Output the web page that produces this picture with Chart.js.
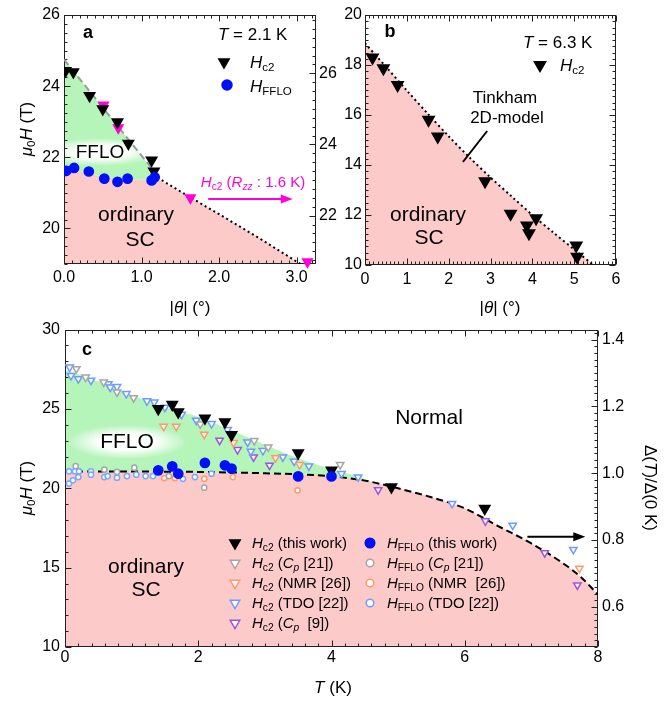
<!DOCTYPE html>
<html>
<head>
<meta charset="utf-8">
<script src="https://cdn.jsdelivr.net/npm/chart.js@4/dist/chart.umd.min.js"></script>
<style>
  body { margin: 0; background: #fff; width: 670px; height: 703px; position: relative; overflow: hidden; }
  canvas { position: absolute; }
</style>
</head>
<body>
<canvas id="chartA" width="345" height="320" style="left:0;top:0"></canvas>
<canvas id="chartB" width="335" height="320" style="left:335px;top:0"></canvas>
<canvas id="chartC" width="670" height="388" style="left:0;top:315px"></canvas>
<script>
// ---- panel a: T = 2.1 K, field vs angle ----
const aHc2Theta = [0.02, 0.12, 0.33, 0.50, 0.69, 0.83, 1.13, 1.16];
const aHc2 = [24.43, 24.40, 23.73, 23.36, 22.99, 22.39, 21.92, 21.61];
const aFfloTheta = [0.03, 0.13, 0.32, 0.52, 0.69, 0.82, 1.13, 1.17];
const aFflo = [21.62, 21.70, 21.60, 21.40, 21.31, 21.40, 21.35, 21.44];
const aRzzTheta = [0.51, 0.70, 1.63, 3.14];          // right axis
const aRzz = [25.11, 24.47, 22.50, 20.70];
const aDashTheta = [0, 1.22];
const aDash = [24.75, 21.45];
const aDotTheta = [1.15, 1.64, 2.0, 2.5, 3.05];
const aDot = [21.50, 20.86, 20.40, 19.75, 19.0];
const aScTheta = [0, 0.25, 0.5, 0.75, 1.0, 1.2, 1.64, 2.0, 2.5, 3.05];
const aSc = [21.65, 21.60, 21.45, 21.38, 21.37, 21.40, 20.86, 20.40, 19.75, 19.0];

// ---- panel b: T = 6.3 K ----
const bHc2Theta = [0.18, 0.44, 0.78, 1.52, 1.74, 2.87, 3.48, 3.87, 3.92, 4.09, 5.05, 5.07];
const bHc2 = [18.30, 17.87, 17.20, 15.81, 15.14, 13.35, 12.05, 11.58, 11.27, 11.87, 10.78, 10.33];
const bTinkTheta = [0, 0.5, 1, 1.5, 2, 2.5, 3, 3.5, 4, 4.5, 5, 5.46];
const bTink = [18.87, 17.93, 16.98, 16.05, 15.15, 14.30, 13.50, 12.75, 12.00, 11.30, 10.62, 10.0];

// ---- panel c: field vs temperature ----
const cHc2T = [1.40, 1.61, 1.70, 2.10, 2.40, 2.50, 3.50, 4.00, 4.90, 6.30];
const cHc2 = [25.01, 25.28, 24.80, 24.42, 24.17, 23.37, 22.22, 21.13, 20.08, 18.72];
const cFfloT = [1.40, 1.61, 1.70, 2.10, 2.40, 2.50, 3.50, 4.00];
const cFflo = [21.13, 21.38, 20.92, 21.60, 21.45, 21.24, 20.75, 20.75];
const cCp21T = [0.17, 0.31, 0.58, 0.78, 1.03, 2.03, 2.84, 3.05, 4.13];
const cCp21 = [27.53, 27.00, 26.69, 26.06, 25.70, 24.05, 23.00, 22.60, 21.49];
const cCp21FfloT = [0.16, 0.59, 0.78, 1.04, 1.56, 2.09];
const cCp21Fflo = [21.40, 21.18, 21.03, 21.30, 20.77, 20.04];
const cNmrT = [1.48, 1.67, 2.09, 2.53, 3.16, 3.52, 7.72];
const cNmr = [23.90, 23.90, 23.40, 22.87, 21.92, 21.49, 14.95];
const cNmrFfloT = [1.49, 1.65, 2.09, 2.52, 3.49];
const cNmrFflo = [20.65, 20.65, 20.60, 20.71, 19.87];
const cTdoT = [0.07, 0.09, 0.20, 0.39, 0.65, 0.68, 0.78, 0.92, 1.23, 1.34, 1.50, 1.75, 1.97,
               2.20, 2.44, 2.74, 2.79, 2.97, 3.27, 3.44, 3.66, 4.15, 4.40, 5.81, 6.72, 7.63];
const cTdo = [27.63, 27.10, 26.90, 26.80, 26.58, 26.37, 26.40, 25.96, 25.50, 25.43, 25.10, 24.65, 24.28,
              24.07, 23.69, 22.91, 22.33, 22.37, 21.97, 21.70, 21.40, 20.92, 20.71, 19.04, 17.67, 16.14];
const cTdoFfloT = [0.06, 0.06, 0.12, 0.20, 0.15, 0.21, 0.39, 0.39, 0.59, 0.64, 0.78, 0.93, 1.07,
                   1.21, 1.32, 1.77, 1.95, 2.20];
const cTdoFflo = [21.07, 20.30, 20.50, 20.71, 21.07, 21.07, 21.07, 20.86, 20.71, 20.77, 20.67, 20.77, 20.86,
                  20.77, 20.77, 20.60, 20.71, 20.92];
const cCp9T = [2.32, 2.59, 2.83, 3.07, 4.70, 6.31, 7.20, 7.69];
const cCp9 = [23.02, 22.43, 21.97, 21.45, 19.90, 17.94, 15.93, 13.90];
const cGapT = [0, 1, 2, 3, 3.5, 4, 4.5, 5, 5.5, 6, 6.5, 7, 7.5, 7.75, 8];   // right axis
const cGap = [1.005, 1.005, 1.004, 1.0, 0.997, 0.991, 0.978, 0.955, 0.928, 0.895, 0.842, 0.79, 0.727, 0.688, 0.637];
const cEdgeT = [0, 0.5, 1, 1.5, 2, 2.5, 3, 3.5, 4, 4.4, 4.75];
const cEdge = [27.45, 26.75, 25.90, 25.10, 24.50, 23.65, 22.75, 21.90, 21.20, 20.75, 20.20];

const FONT = '"Liberation Sans", Arial, Helvetica, sans-serif';
Chart.defaults.font.family = FONT;
Chart.defaults.font.size = 16;
Chart.defaults.color = '#000';

const PINK = '#fdcaca', GREEN = '#b5f5ba', MAG = '#ff00dc', BLUE = '#0010f5';
const GRAY = '#a6a6a6', ORANGE = '#ff9a66', LBLUE = '#6f9bff', PURPLE = '#9a55e0';

const pts = (xs, ys) => xs.map((x, i) => ({x, y: ys[i]}));
const line = (xs, ys, o) => Object.assign({data: pts(xs, ys), showLine: true, pointRadius: 0,
  borderWidth: 2, fill: false, order: 5}, o);
const marks = (xs, ys, o) => Object.assign({data: pts(xs, ys), showLine: false, order: 1}, o);
const down = (r, fill, stroke) => ({pointStyle: 'triangle', rotation: 180, pointRadius: r,
  backgroundColor: fill, borderColor: stroke, pointBorderWidth: 1.5});
const ring = (r, fill, stroke) => ({pointStyle: 'circle', pointRadius: r,
  backgroundColor: fill, borderColor: stroke, pointBorderWidth: 1.5});

// text with italic / subscript pieces
function txt(ctx, x, y, segs, size, o = {}) {
  const parts = segs.map(([t, f = '']) => {
    const sz = f.includes('s') ? size * 0.68 : size;
    const font = (f.includes('i') ? 'italic ' : '') + (o.bold ? 'bold ' : '') + sz + 'px ' + FONT;
    ctx.font = font;
    return {t, font, w: ctx.measureText(t).width, dy: f.includes('s') ? size * 0.3 : 0};
  });
  const total = parts.reduce((s, p) => s + p.w, 0);
  ctx.save();
  ctx.translate(x, y);
  if (o.rot) ctx.rotate(o.rot);
  let cx = o.align === 'left' ? 0 : -total / 2;
  ctx.fillStyle = o.color || '#000';
  ctx.textBaseline = 'middle';
  ctx.textAlign = 'left';
  for (const p of parts) { ctx.font = p.font; ctx.fillText(p.t, cx, p.dy); cx += p.w; }
  ctx.restore();
}

function marker(ctx, x, y, style, r, fill, stroke) {
  ctx.save();
  ctx.fillStyle = fill; ctx.strokeStyle = stroke; ctx.lineWidth = 1.5;
  Chart.helpers.drawPoint(ctx, {pointStyle: style, radius: r, rotation: style === 'triangle' ? 180 : 0, borderWidth: 1.5}, x, y);
  ctx.restore();
}

function arrow(ctx, x1, y, x2, color) {
  ctx.save();
  ctx.strokeStyle = color; ctx.fillStyle = color; ctx.lineWidth = 2;
  ctx.beginPath(); ctx.moveTo(x1, y); ctx.lineTo(x2 - 8, y); ctx.stroke();
  ctx.beginPath(); ctx.moveTo(x2, y); ctx.lineTo(x2 - 12, y - 4.5); ctx.lineTo(x2 - 12, y + 4.5); ctx.closePath(); ctx.fill();
  ctx.restore();
}

function glow(chart, cx, cy, rx, ry) {
  const {ctx, chartArea: a} = chart;
  ctx.save();
  ctx.beginPath(); ctx.rect(a.left, a.top, a.right - a.left, a.bottom - a.top); ctx.clip();
  ctx.translate(cx, cy); ctx.scale(rx / ry, 1);
  const g = ctx.createRadialGradient(0, 0, 0, 0, 0, ry);
  g.addColorStop(0, 'rgba(255,255,255,1)');
  g.addColorStop(0.5, 'rgba(255,255,255,0.95)');
  g.addColorStop(1, 'rgba(255,255,255,0)');
  ctx.fillStyle = g;
  ctx.beginPath(); ctx.arc(0, 0, ry, 0, Math.PI * 2); ctx.fill();
  ctx.restore();
}

// frame plus inward ticks
function frame(chart, specs) {
  const {ctx, chartArea: a} = chart;
  ctx.save();
  ctx.strokeStyle = '#222'; ctx.lineWidth = 1;
  const L = Math.round(a.left) + 0.5, R = Math.round(a.right) - 0.5;
  const T = Math.round(a.top) + 0.5, B = Math.round(a.bottom) - 0.5;
  ctx.strokeRect(L, T, R - L, B - T);
  for (const s of specs) {
    const sc = chart.scales[s.id];
    const majors = sc.ticks.map(t => t.value);
    const n0 = Math.ceil(sc.min / s.minor - 1e-6), n1 = Math.floor(sc.max / s.minor + 1e-6);
    ctx.beginPath();
    for (let n = n0; n <= n1; n++) {
      const v = n * s.minor;
      const len = majors.some(m => Math.abs(m - v) < s.minor / 10) ? 6 : 3;
      const p = Math.round(sc.getPixelForValue(v)) + 0.5;
      for (const e of s.edges) {
        if (e === 'bottom') { ctx.moveTo(p, B); ctx.lineTo(p, B - len); }
        if (e === 'top') { ctx.moveTo(p, T); ctx.lineTo(p, T + len); }
        if (e === 'left') { ctx.moveTo(L, p); ctx.lineTo(L + len, p); }
        if (e === 'right') { ctx.moveTo(R, p); ctx.lineTo(R - len, p); }
      }
    }
    ctx.stroke();
  }
  ctx.restore();
}

function axis(o) {
  return Object.assign({type: 'linear', grid: {display: false, drawTicks: false}, border: {display: false}},
    o, {ticks: Object.assign({includeBounds: false, autoSkip: false, maxRotation: 0, color: '#000', font: {size: 16}}, o.ticks)});
}

const base = {
  responsive: false, animation: false, devicePixelRatio: 1, events: [],
  plugins: {legend: {display: false}, tooltip: {enabled: false}, filler: {drawTime: 'beforeDatasetsDraw'}}
};

// ---------------- panel a ----------------
new Chart(document.getElementById('chartA'), {
  type: 'scatter',
  data: {datasets: [
    line(aScTheta, aSc, {borderColor: 'rgba(0,0,0,0)', fill: 'start', backgroundColor: PINK, order: 10}),
    line(aDashTheta, aDash, {borderColor: '#9a9a9a', borderDash: [7, 4], fill: {target: 0}, backgroundColor: GREEN, order: 6}),
    line(aDotTheta, aDot, {borderColor: '#000', borderDash: [2, 3]}),
    marks(aRzzTheta, aRzz, Object.assign({yAxisID: 'y2', order: 3, clip: false}, down(5.5, MAG, MAG))),
    marks(aHc2Theta, aHc2, Object.assign({order: 2}, down(6, '#000', '#000'))),
    marks(aFfloTheta, aFflo, ring(4.6, BLUE, BLUE))
  ]},
  options: Object.assign({}, base, {
    layout: {padding: {top: 15, left: 0, right: 0, bottom: 0}},
    scales: {
      x: axis({min: 0, max: 3.25, ticks: {stepSize: 1, padding: 4, callback: v => v.toFixed(1)}, afterFit: s => { s.height = 56; }}),
      y: axis({position: 'left', min: 19, max: 26, ticks: {stepSize: 2, padding: 4}, afterFit: s => { s.width = 64; }}),
      y2: axis({position: 'right', min: 20.64, max: 27.64, ticks: {stepSize: 2, padding: 3}, afterFit: s => { s.width = 29; }})
    }
  }),
  plugins: [{
    id: 'decoA',
    beforeDatasetsDraw(chart) {
      glow(chart, 100, 152, 58, 14);
      frame(chart, [{id: 'x', minor: 0.1, edges: ['bottom', 'top']}, {id: 'y', minor: 0.25, edges: ['left']},
                    {id: 'y2', minor: 0.25, edges: ['right']}]);
    },
    afterDraw(chart) {
      const ctx = chart.ctx, sx = chart.scales.x, s2 = chart.scales.y2;
      txt(ctx, 88, 33, [['a']], 18, {bold: true});
      txt(ctx, 218, 35, [['T', 'i'], [' = 2.1 K']], 17, {align: 'left'});
      marker(ctx, 224, 62, 'triangle', 6, '#000', '#000');
      txt(ctx, 250, 63, [['H', 'i'], ['c2', 's']], 17, {align: 'left'});
      marker(ctx, 227, 85, 'circle', 5, BLUE, BLUE);
      txt(ctx, 250, 87, [['H', 'i'], ['FFLO', 's']], 17, {align: 'left'});
      txt(ctx, 100, 153, [['FFLO']], 19);
      txt(ctx, 136, 215, [['ordinary']], 21);
      txt(ctx, 140, 240, [['SC']], 21);
      txt(ctx, 253, 183, [['H', 'i'], ['c2', 's'], [' ('], ['R', 'i'], ['zz', 'is'], [' : 1.6 K)']], 15, {color: MAG});
      arrow(ctx, sx.getPixelForValue(1.86), s2.getPixelForValue(22.47), sx.getPixelForValue(2.95), MAG);
      txt(ctx, 27, 129, [['μ', 'i'], ['0', 's'], ['H', 'i'], [' (T)']], 17, {rot: -Math.PI / 2});
      txt(ctx, 190, 308, [['|'], ['θ', 'i'], ['| (°)']], 17);
    }
  }]
});

// ---------------- panel b ----------------
new Chart(document.getElementById('chartB'), {
  type: 'scatter',
  data: {datasets: [
    line(bTinkTheta, bTink, {borderColor: '#000', borderDash: [2, 3], fill: 'start', backgroundColor: PINK, tension: 0.3}),
    marks(bHc2Theta, bHc2, down(6.5, '#000', '#000'))
  ]},
  options: Object.assign({}, base, {
    layout: {padding: {top: 15, left: 0, right: 54, bottom: 0}},
    scales: {
      x: axis({min: 0, max: 6, ticks: {stepSize: 1, padding: 5}, afterFit: s => { s.height = 55; }}),
      y: axis({position: 'left', min: 10, max: 20, ticks: {stepSize: 2, padding: 3}, afterFit: s => { s.width = 30; }})
    }
  }),
  plugins: [{
    id: 'decoB',
    beforeDatasetsDraw(chart) {
      frame(chart, [{id: 'x', minor: 0.1, edges: ['bottom', 'top']}, {id: 'y', minor: 0.25, edges: ['left', 'right']}]);
    },
    afterDraw(chart) {
      const ctx = chart.ctx, sx = chart.scales.x, sy = chart.scales.y;
      txt(ctx, 55, 32, [['b']], 18, {bold: true});
      txt(ctx, 188, 43, [['T', 'i'], [' = 6.3 K']], 17, {align: 'left'});
      marker(ctx, 205, 65, 'triangle', 6.5, '#000', '#000');
      txt(ctx, 225, 66, [['H', 'i'], ['c2', 's']], 17, {align: 'left'});
      txt(ctx, 170, 98, [['Tinkham']], 17);
      txt(ctx, 172, 118, [['2D-model']], 17);
      ctx.save();
      ctx.strokeStyle = '#000'; ctx.lineWidth = 2;
      ctx.beginPath();
      ctx.moveTo(sx.getPixelForValue(2.92), sy.getPixelForValue(15.36));
      ctx.lineTo(sx.getPixelForValue(2.34), sy.getPixelForValue(14.12));
      ctx.stroke();
      ctx.restore();
      txt(ctx, 93, 215, [['ordinary']], 21);
      txt(ctx, 94, 238, [['SC']], 21);
      txt(ctx, 165, 308, [['|'], ['θ', 'i'], ['| (°)']], 17);
    }
  }]
});

// ---------------- panel c ----------------
const legendRows = [
  [235, 228, 'triangle', 6, '#000', '#000', [['H', 'i'], ['c2', 's'], [' (this work)']]],
  [235, 248, 'triangle', 5.5, '#fff', GRAY, [['H', 'i'], ['c2', 's'], [' ('], ['C', 'i'], ['p', 'is'], [' [21])']]],
  [235, 268, 'triangle', 5.5, '#fff', ORANGE, [['H', 'i'], ['c2', 's'], [' (NMR [26])']]],
  [235, 288, 'triangle', 5.5, '#fff', LBLUE, [['H', 'i'], ['c2', 's'], [' (TDO [22])']]],
  [235, 308, 'triangle', 5.5, '#fff', PURPLE, [['H', 'i'], ['c2', 's'], [' ('], ['C', 'i'], ['p', 'is'], ['  [9])']]],
  [370, 228, 'circle', 4.8, BLUE, BLUE, [['H', 'i'], ['FFLO', 's'], [' (this work)']]],
  [370, 248, 'circle', 3.8, '#fff', GRAY, [['H', 'i'], ['FFLO', 's'], [' ('], ['C', 'i'], ['p', 'is'], [' [21])']]],
  [370, 268, 'circle', 3.8, '#fff', ORANGE, [['H', 'i'], ['FFLO', 's'], [' (NMR  [26])']]],
  [370, 288, 'circle', 3.8, '#fff', LBLUE, [['H', 'i'], ['FFLO', 's'], [' (TDO [22])']]]
];

new Chart(document.getElementById('chartC'), {
  type: 'scatter',
  data: {datasets: [
    line(cGapT, cGap, {yAxisID: 'y2', borderColor: '#000', borderDash: [7, 4], fill: 'start', backgroundColor: PINK,
      cubicInterpolationMode: 'monotone'}),
    line(cEdgeT, cEdge, {borderColor: 'rgba(0,0,0,0)', fill: {target: 0}, backgroundColor: GREEN, tension: 0.3, order: 6}),
    marks(cTdoFfloT, cTdoFflo, Object.assign({order: 4}, ring(2.6, '#fff', '#7aa6ff'))),
    marks(cCp21FfloT, cCp21Fflo, Object.assign({order: 4}, ring(2.6, '#fff', GRAY))),
    marks(cNmrFfloT, cNmrFflo, Object.assign({order: 4}, ring(2.6, '#fff', ORANGE))),
    marks(cCp21T, cCp21, Object.assign({order: 3}, down(4.3, '#fff', GRAY))),
    marks(cNmrT, cNmr, Object.assign({order: 3}, down(4.3, '#fff', ORANGE))),
    marks(cTdoT, cTdo, Object.assign({order: 3}, down(4.3, '#fff', LBLUE))),
    marks(cCp9T, cCp9, Object.assign({order: 3}, down(4.3, '#fff', PURPLE))),
    marks(cHc2T, cHc2, Object.assign({order: 2}, down(6, '#000', '#000'))),
    marks(cFfloT, cFflo, ring(4.6, BLUE, BLUE))
  ]},
  options: Object.assign({}, base, {
    layout: {padding: {top: 14, left: 0, right: 0, bottom: 0}},
    scales: {
      x: axis({min: 0, max: 8, ticks: {stepSize: 2, padding: 1}, afterFit: s => { s.height = 56; }}),
      y: axis({position: 'left', min: 10, max: 30, ticks: {stepSize: 5, padding: 5}, afterFit: s => { s.width = 65; }}),
      y2: axis({position: 'right', min: 0.48, max: 1.43, ticks: {stepSize: 0.2, padding: 4, callback: v => v.toFixed(1)},
        afterFit: s => { s.width = 72; }})
    }
  }),
  plugins: [{
    id: 'decoC',
    beforeDatasetsDraw(chart) {
      glow(chart, 127, 127, 60, 17);
      frame(chart, [{id: 'x', minor: 0.2, edges: ['bottom', 'top']}, {id: 'y', minor: 1, edges: ['left']},
                    {id: 'y2', minor: 0.02, edges: ['right']}]);
    },
    afterDraw(chart) {
      const ctx = chart.ctx, sx = chart.scales.x, s2 = chart.scales.y2;
      txt(ctx, 87, 35, [['c']], 18, {bold: true});
      txt(ctx, 127, 127, [['FFLO']], 21);
      txt(ctx, 429, 103, [['Normal']], 21);
      txt(ctx, 146, 252, [['ordinary']], 21);
      txt(ctx, 146, 275, [['SC']], 21);
      arrow(ctx, sx.getPixelForValue(6.94), s2.getPixelForValue(0.81), sx.getPixelForValue(7.81), '#000');
      for (const [x, y, st, r, f, s, segs] of legendRows) {
        marker(ctx, x, y, st, r, f, s);
        txt(ctx, x + 17, y + 1, segs, 15, {align: 'left'});
      }
      txt(ctx, 27, 173, [['μ', 'i'], ['0', 's'], ['H', 'i'], [' (T)']], 17, {rot: -Math.PI / 2});
      txt(ctx, 333, 373, [['T', 'i'], [' (K)']], 17);
      txt(ctx, 650, 173, [['Δ('], ['T', 'i'], [')/Δ(0 K)']], 17, {rot: Math.PI / 2});
    }
  }]
});
</script>
</body>
</html>
